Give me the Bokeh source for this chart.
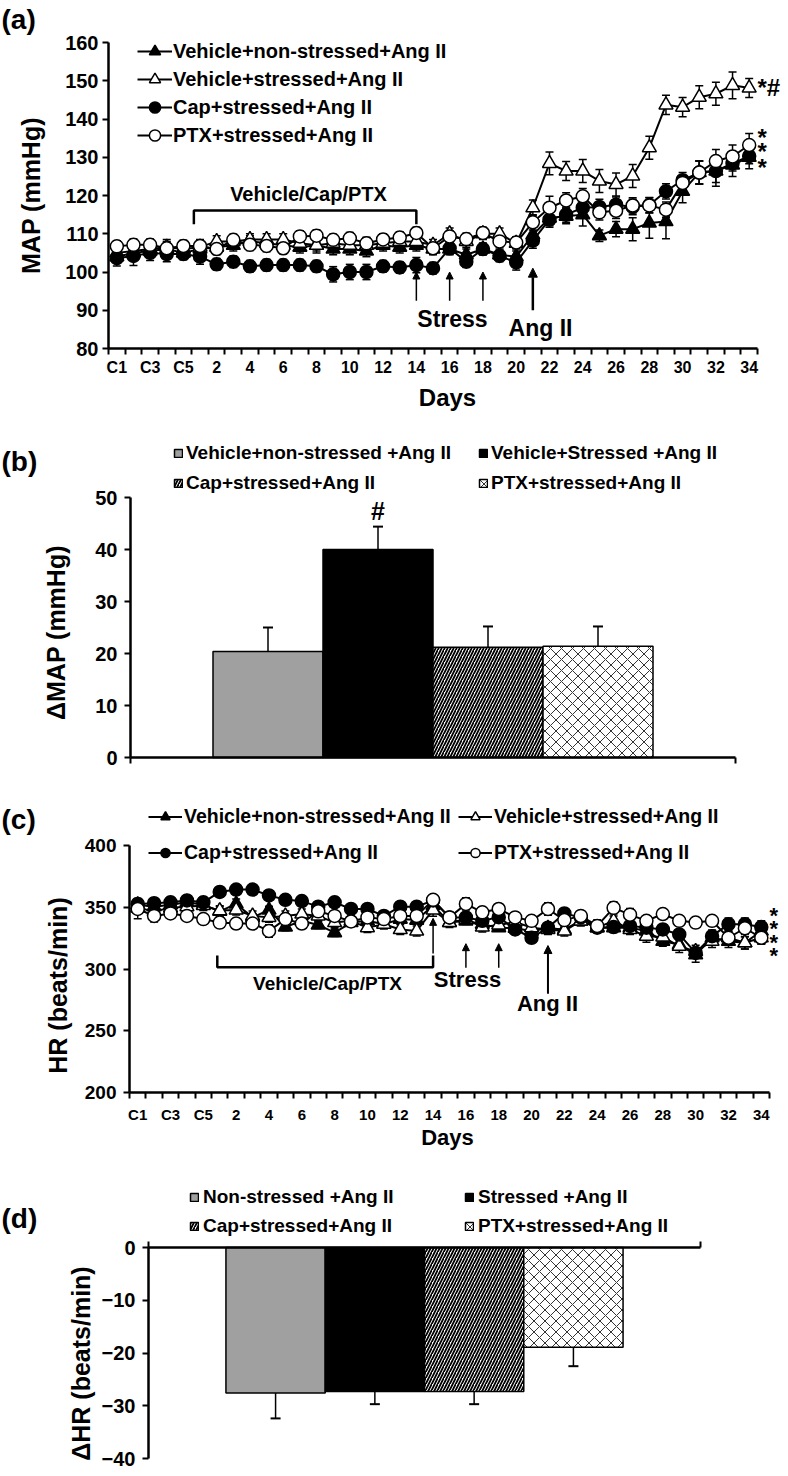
import math
from bokeh.plotting import figure
from bokeh.layouts import column
from bokeh.models import (Range1d, FixedTicker, Whisker, TeeHead, ColumnDataSource,
                          Legend, LegendItem, Label, Arrow, NormalHead)
from bokeh.embed import file_html
from bokeh.resources import INLINE

FONT = "Liberation Sans"

# ---------------- data ----------------
days = ["C1", "C2", "C3", "C4", "C5"] + [str(d) for d in range(1, 35)]
series_names = ["Vehicle+non-stressed+Ang II", "Vehicle+stressed+Ang II",
                "Cap+stressed+Ang II", "PTX+stressed+Ang II"]

# (a) MAP (mmHg)
map_veh_ns = [104.0, 105.0, 105.5, 106.0, 105.0,
              106.0, 106.5, 107.0, 108.0, 107.5, 107.0, 106.5, 107.0, 106.0, 106.0, 105.5, 107.0, 106.5, 107.0,
              106.0, 106.0, 104.5, 106.0, 104.5, 104.0,
              109.7, 114.1, 114.6, 115.0, 109.5, 111.2, 111.2, 112.8, 113.2, 121.1, 126.0, 126.4, 128.0, 130.0]
map_veh_s = [105.0, 105.5, 106.0, 106.5, 106.0,
             106.5, 108.0, 108.0, 108.5, 108.5, 108.5, 107.5, 107.0, 107.5, 107.0, 107.0, 107.5, 108.0, 108.0,
             107.0, 110.0, 108.0, 110.0, 110.0, 107.5,
             116.8, 128.4, 126.4, 126.4, 123.8, 122.9, 125.1, 132.5, 143.7, 143.1, 145.7, 146.6, 148.8, 148.1]
map_cap = [103.6, 104.2, 105.0, 104.7, 104.7,
           104.0, 102.0, 102.7, 101.5, 101.8, 101.8, 101.8, 101.5, 99.4, 100.0, 100.0, 101.5, 101.2, 101.8,
           101.0, 106.2, 102.7, 106.0, 104.2, 102.5,
           108.2, 113.7, 115.0, 116.8, 117.0, 117.6, 117.0, 117.5, 121.1, 124.0, 126.0, 126.4, 128.4, 130.3]
map_ptx = [106.7, 107.1, 107.1, 106.2, 106.8,
           106.8, 106.0, 108.4, 107.1, 106.8, 106.2, 109.3, 109.5, 108.4, 108.8, 107.5, 108.5, 109.0, 110.2,
           106.2, 109.3, 108.6, 110.2, 108.0, 107.7,
           113.0, 116.8, 118.7, 119.8, 115.6, 116.0, 117.4, 117.4, 116.3, 123.3, 126.0, 129.0, 130.2, 133.2]

map_veh_ns_err = [1.5, 2.0, 1.5, 2.5, 1.5,
                  1.5, 1.5, 1.5, 1.5, 1.5, 1.5, 1.5, 1.5, 1.5, 1.5, 1.5, 1.5, 1.5, 1.5,
                  1.5, 1.5, 1.5, 1.5, 1.5, 1.5,
                  2.0, 2.0, 2.0, 3.0, 1.5, 2.0, 3.0, 4.0, 4.5, 3.0, 3.0, 3.0, 3.0, 3.0]
map_veh_s_err = [1.5, 1.5, 1.5, 1.5, 1.5,
                 2.0, 1.5, 1.5, 1.5, 1.5, 1.5, 1.5, 2.0, 1.5, 1.5, 2.0, 1.5, 1.5, 1.5,
                 1.5, 1.5, 1.5, 1.5, 1.5, 1.5,
                 2.0, 3.0, 2.5, 3.0, 3.0, 3.0, 3.0, 3.0, 2.5, 2.5, 3.0, 3.0, 3.5, 2.5]
map_cap_err = [2.0, 2.5, 2.0, 2.0, 1.5,
               2.0, 1.5, 1.5, 1.5, 1.5, 1.5, 1.5, 1.5, 2.0, 2.0, 2.0, 1.5, 1.5, 2.0,
               1.5, 1.5, 1.5, 1.5, 1.5, 2.0,
               2.0, 2.0, 2.0, 2.0, 2.0, 2.0, 2.0, 2.0, 2.0, 2.0, 3.0, 4.0, 2.0, 2.0]
map_ptx_err = [1.5, 1.5, 1.5, 1.5, 1.5,
               1.5, 1.5, 1.5, 1.5, 1.5, 1.5, 1.5, 1.5, 1.5, 1.5, 1.5, 1.5, 1.5, 1.5,
               1.5, 1.5, 1.5, 1.5, 1.5, 1.5,
               2.0, 3.0, 2.0, 2.0, 2.0, 2.0, 2.0, 2.0, 2.0, 2.0, 3.0, 3.0, 3.0, 3.0]

# (c) HR (beats/min)
hr_veh_ns = [352.0, 350.5, 352.0, 354.0, 352.0,
             346.7, 352.7, 341.8, 347.8, 334.0, 339.0, 335.7, 329.4, 337.6, 339.0, 336.3, 340.4, 339.6, 351.4,
             337.6, 339.0, 336.3, 333.5, 333.0, 330.8,
             333.0, 332.0, 339.0, 333.5, 333.5, 333.5, 330.8, 322.5, 319.8, 311.5, 325.3, 322.5, 321.2, 330.8]
hr_veh_s = [349.5, 346.7, 349.5, 350.5, 351.4,
            347.3, 347.8, 343.0, 341.8, 343.0, 344.5, 343.0, 337.6, 339.0, 333.5, 336.3, 332.0, 330.8, 347.8,
            337.6, 340.4, 334.0, 335.7, 338.0, 333.5,
            332.0, 330.8, 339.0, 333.5, 339.0, 332.0, 326.6, 326.0, 318.4, 314.3, 322.5, 325.3, 321.2, 325.3]
hr_cap = [352.7, 353.3, 354.0, 355.5, 354.0,
          362.4, 364.3, 364.3, 359.6, 356.0, 355.0, 350.5, 354.0, 348.6, 348.6, 343.0, 350.5, 350.5, 355.5,
          341.8, 341.8, 339.0, 342.0, 332.0, 325.3,
          333.5, 345.0, 341.8, 333.5, 334.0, 334.9, 333.5, 332.0, 328.0, 313.0, 326.6, 336.3, 336.3, 334.0]
hr_ptx = [348.6, 343.0, 345.0, 343.0, 340.4,
          337.6, 336.8, 336.8, 330.8, 340.4, 336.8, 346.7, 343.0, 338.5, 341.8, 340.4, 343.0, 343.0, 356.0,
          341.8, 352.7, 345.9, 348.6, 341.8, 339.0,
          348.6, 339.6, 343.0, 334.9, 349.5, 344.0, 339.0, 344.5, 339.0, 337.6, 339.0, 325.3, 333.0, 325.3]

hr_veh_ns_err = [5, 4, 4, 5, 4,
                 4, 4, 3, 3, 3, 3, 3, 3, 3, 3, 3, 3, 3, 4,
                 3, 3, 3, 3, 3, 3,
                 3, 3, 4, 4, 4, 3, 4, 4, 4, 6, 5, 5, 5, 4]
hr_veh_s_err = [4, 4, 3, 4, 4,
                4, 4, 4, 4, 4, 4, 4, 4, 4, 4, 4, 4, 4, 5,
                4, 4, 4, 4, 4, 4,
                4, 4, 4, 4, 4, 4, 5, 5, 5, 5, 5, 5, 5, 5]
hr_cap_err = [4, 4, 4, 4, 4,
              4, 4, 4, 4, 4, 4, 4, 4, 4, 4, 4, 4, 4, 4,
              4, 4, 4, 4, 4, 4,
              4, 4, 4, 4, 4, 4, 4, 4, 4, 4, 5, 5, 5, 5]
hr_ptx_err = [8, 5, 4, 4, 4,
              4, 4, 4, 5, 4, 4, 4, 4, 4, 4, 4, 4, 4, 4,
              4, 5, 4, 4, 4, 4,
              5, 4, 4, 5, 5, 5, 4, 4, 4, 4, 4, 5, 5, 5]

# (b) delta MAP bars
groups_b = ["Vehicle+non-stressed +Ang II", "Vehicle+Stressed +Ang II",
            "Cap+stressed+Ang II", "PTX+stressed+Ang II"]
dmap = [20.4, 40.0, 21.2, 21.4]
dmap_err = [4.6, 4.4, 4.0, 3.8]

# (d) delta HR bars
groups_d = ["Non-stressed +Ang II", "Stressed +Ang II",
            "Cap+stressed+Ang II", "PTX+stressed+Ang II"]
dhr = [-27.6, -27.3, -27.3, -18.9]
dhr_err = [4.8, 2.4, 2.4, 3.6]

# annotation days
treat_start, treat_end = "C5", "14"
stress_days = ["14", "16", "18"]
angii_day = "21"

# ---------------- helpers ----------------
W = 788
idx = list(range(len(days)))
label_idx = idx[0::2]
boundaries = [i - 0.5 for i in range(len(days) + 1)]


class Panel:
    """Maps canvas pixels of one figure (frame = whole canvas) to data."""
    def __init__(self, top, h, xd, xp, yd, yp):
        self.top, self.h = top, h
        self.sx = (xd[1] - xd[0]) / (xp[1] - xp[0])
        self.x0 = xd[0] - xp[0] * self.sx
        self.sy = (yd[1] - yd[0]) / (yp[1] - yp[0])
        self.y0 = yd[0] - (yp[0] - top) * self.sy

    def X(self, px):
        return self.x0 + px * self.sx

    def Y(self, ref_py):
        return self.y0 + (ref_py - self.top) * self.sy

    def fig(self):
        p = figure(width=W, height=self.h, title=None,
                   x_range=Range1d(self.X(0), self.X(W)),
                   y_range=Range1d(self.Y(self.top + self.h), self.Y(self.top)),
                   output_backend="svg", toolbar_location=None,
                   min_border_left=0, min_border_right=0, min_border_top=0, min_border_bottom=0)
        p.xgrid.grid_line_color = None
        p.ygrid.grid_line_color = None
        p.outline_line_color = None
        return p


def style_axis(ax, size, loc, bounds):
    ax.fixed_location = loc
    ax.bounds = bounds
    ax.axis_line_width = 2.5
    ax.axis_line_color = "black"
    ax.major_tick_line_width = 2
    ax.major_tick_line_color = "black"
    ax.major_tick_in = 0
    ax.major_tick_out = 6
    ax.minor_tick_line_color = None
    ax.major_label_text_font = FONT
    ax.major_label_text_font_size = size
    ax.major_label_text_font_style = "bold"
    ax.major_label_text_color = "black"


def day_axis(ax, size, loc):
    style_axis(ax, size, loc, (-0.5, 38.5))
    ax.ticker = FixedTicker(ticks=label_idx, minor_ticks=boundaries)
    ax.major_label_overrides = {i: days[i] for i in label_idx}
    ax.major_tick_line_color = None
    ax.minor_tick_line_color = "black"
    ax.minor_tick_line_width = 2
    ax.minor_tick_in = 0
    ax.minor_tick_out = 6


def add_text(p, x, y, text, size, align="center", baseline="middle", angle=0):
    p.add_layout(Label(x=x, y=y, text=text, text_font=FONT, text_font_size=size,
                       text_font_style="bold", text_color="black", text_align=align,
                       text_baseline=baseline, angle=angle))


def add_arrow(p, x, y0, y1, w=1.5, size=7):
    p.add_layout(Arrow(end=NormalHead(size=size, fill_color="black", line_color="black", line_width=1),
                       x_start=x, y_start=y0, x_end=x, y_end=y1, line_width=w, line_color="black"))


def line_series(p, ys, errs, marker_styles, msize):
    rends = []
    for (marker, fill), y, e in zip(marker_styles, ys, errs):
        src = ColumnDataSource(dict(x=idx, y=y,
                                    lo=[a - b for a, b in zip(y, e)],
                                    hi=[a + b for a, b in zip(y, e)]))
        p.add_layout(Whisker(source=src, base="x", lower="lo", upper="hi", line_width=1.5,
                             line_color="black",
                             lower_head=TeeHead(size=8, line_width=1.5, line_color="black"),
                             upper_head=TeeHead(size=8, line_width=1.5, line_color="black")))
        ln = p.line("x", "y", source=src, line_color="black", line_width=2)
        sc = p.scatter("x", "y", source=src, marker=marker,
                       size=msize if marker == "circle" else msize + 1,
                       fill_color=fill, line_color="black", line_width=1.5)
        rends.append([ln, sc])
    return rends


def make_legend(items, loc, glyph_w, glyph_h, label_h, spacing, size, standoff):
    return Legend(items=items, location=loc, orientation="vertical",
                  glyph_width=glyph_w, glyph_height=glyph_h, label_height=label_h,
                  spacing=spacing, padding=0, margin=0, label_standoff=standoff,
                  border_line_color=None, background_fill_alpha=0,
                  label_text_font=FONT, label_text_font_size=size,
                  label_text_font_style="bold", label_text_color="black")


styles = [("triangle", "black"), ("triangle", "white"), ("circle", "black"), ("circle", "white")]
i_end = days.index(treat_end)
stress_idx = [days.index(d) for d in stress_days]
ang_idx = days.index(angii_day)

# ---------------- (a) ----------------
A = Panel(0, 428, (-0.5, 38.5), (108, 757), (160, 80), (42, 348))
pa = A.fig()
style_axis(pa.yaxis[0], "20px", -0.5, (80, 160))
pa.yaxis.ticker = FixedTicker(ticks=list(range(80, 161, 10)))
pa.yaxis.major_label_standoff = 4
day_axis(pa.xaxis[0], "16px", 80)
pa.xaxis.major_label_standoff = 4

ra = line_series(pa, [map_veh_ns, map_veh_s, map_cap, map_ptx],
                 [map_veh_ns_err, map_veh_s_err, map_cap_err, map_ptx_err], styles, 13)
pa.add_layout(make_legend([LegendItem(label=n, renderers=r) for n, r in zip(series_names, ra)],
                          (137, 428 - 149), 35, 28, 28, 0, "20px", 1))

ia_start = days.index(treat_start) + 0.63
pa.line([ia_start, ia_start, i_end, i_end], [112.5, 116.1, 116.1, 112.5], line_color="black", line_width=2.5)
add_text(pa, A.X(308), A.Y(193), "Vehicle/Cap/PTX", "20px")
for s in stress_idx:
    add_arrow(pa, s, 92.5, 100.0)
add_arrow(pa, ang_idx, 90.0, 101.0, w=2.5, size=9)
add_text(pa, A.X(452), A.Y(318), "Stress", "23px")
add_text(pa, A.X(540), A.Y(327), "Ang II", "23px")
add_text(pa, A.X(757), A.Y(87), "*#", "24px", align="left")
for yy in [137, 151, 167]:
    add_text(pa, A.X(757), A.Y(yy), "*", "24px", align="left")
add_text(pa, A.X(1), A.Y(19), "(a)", "28px", align="left")
add_text(pa, A.X(30), A.Y(195), "MAP (mmHg)", "25px", angle=math.pi / 2)
add_text(pa, A.X(447), A.Y(397), "Days", "24px")

# ---------------- (b) ----------------
B = Panel(428, 362, (0, 5.5), (130, 735), (50, 0), (497, 757))
pb = B.fig()
bar_x_b = [1.25, 2.25, 3.25, 4.25]
style_axis(pb.yaxis[0], "20px", 0, (0, 50))
pb.yaxis.ticker = FixedTicker(ticks=list(range(0, 51, 10)))
pb.yaxis.major_label_standoff = 7
style_axis(pb.xaxis[0], "1px", 0, (0, 5.5))
pb.xaxis.ticker = FixedTicker(ticks=[0, 5.5])
pb.xaxis.major_label_overrides = {0: "", 5.5: ""}

bar_styles = [dict(fill_color="#a0a0a0"), dict(fill_color="black"),
              dict(fill_color="white", hatch_pattern="/", hatch_scale=6, hatch_weight=1.8, hatch_color="black"),
              dict(fill_color="white", hatch_pattern="x", hatch_scale=11, hatch_weight=1.0, hatch_color="#333333")]
rb = []
for i in range(4):
    rb.append(pb.vbar(x=[bar_x_b[i]], top=[dmap[i]], bottom=0, width=1.0, line_color="black",
                      line_width=1.5, **bar_styles[i]))
srcb = ColumnDataSource(dict(x=bar_x_b, lo=dmap, hi=[a + b for a, b in zip(dmap, dmap_err)]))
pb.add_layout(Whisker(source=srcb, base="x", lower="lo", upper="hi", line_width=1.5, line_color="black",
                      lower_head=None, upper_head=TeeHead(size=10, line_width=2, line_color="black"),
                      level="overlay"))
pb.add_layout(make_legend([LegendItem(label=groups_b[0], renderers=[rb[0]]),
                           LegendItem(label=groups_b[2], renderers=[rb[2]])],
                          (173, 790 - 494), 10, 10, 22, 8, "19px", 3))
pb.add_layout(make_legend([LegendItem(label=groups_b[1], renderers=[rb[1]]),
                           LegendItem(label=groups_b[3], renderers=[rb[3]])],
                          (478, 790 - 494), 10, 10, 22, 8, "19px", 3))
add_text(pb, bar_x_b[1], B.Y(510), "#", "25px")
add_text(pb, B.X(1), B.Y(461), "(b)", "28px", align="left")
add_text(pb, B.X(55), B.Y(632), "\u0394MAP (mmHg)", "25px", angle=math.pi / 2)

# ---------------- (c) ----------------
C = Panel(790, 360, (-0.5, 38.5), (129, 769), (400, 200), (845, 1092))
pc = C.fig()
style_axis(pc.yaxis[0], "19px", -0.5, (200, 400))
pc.yaxis.ticker = FixedTicker(ticks=list(range(200, 401, 50)))
pc.yaxis.major_label_standoff = 7
day_axis(pc.xaxis[0], "15px", 200)
pc.xaxis.major_label_standoff = 7

rc = line_series(pc, [hr_veh_ns, hr_veh_s, hr_cap, hr_ptx],
                 [hr_veh_ns_err, hr_veh_s_err, hr_cap_err, hr_ptx_err], styles, 13)
pc.add_layout(make_legend([LegendItem(label=series_names[0], renderers=rc[0]),
                           LegendItem(label=series_names[2], renderers=rc[2])],
                          (148, 1150 - 864), 34, 23, 23, 13, "19.5px", 2))
pc.add_layout(make_legend([LegendItem(label=series_names[1], renderers=rc[1]),
                           LegendItem(label=series_names[3], renderers=rc[3])],
                          (458, 1150 - 864), 34, 23, 23, 13, "19.5px", 2))
ic_start = days.index(treat_start) + 0.85
pc.line([ic_start, ic_start, i_end, i_end], [311.0, 301.5, 301.5, 311.0], line_color="black", line_width=2.5)
add_text(pc, C.X(327), C.Y(983), "Vehicle/Cap/PTX", "19px")
add_arrow(pc, stress_idx[0], 312.5, 341.0)
for s in stress_idx[1:]:
    add_arrow(pc, s, 301.0, 320.5)
add_arrow(pc, ang_idx, 280.0, 319.0, w=2.0, size=8)
add_text(pc, C.X(467), C.Y(979), "Stress", "22px")
add_text(pc, C.X(547), C.Y(1003), "Ang II", "22px")
for yy in [915, 928, 942, 955]:
    add_text(pc, C.X(769), C.Y(yy), "*", "22px", align="left")
add_text(pc, C.X(1), C.Y(819), "(c)", "28px", align="left")
add_text(pc, C.X(57), C.Y(985), "HR (beats/min)", "25px", angle=math.pi / 2)
add_text(pc, C.X(447), C.Y(1137), "Days", "22px")

# ---------------- (d) ----------------
D = Panel(1150, 326, (0, 5.56), (148, 700), (0, -40), (1247, 1458))
pdd = D.fig()
bar_x_d = [1.28, 2.28, 3.28, 4.28]
style_axis(pdd.yaxis[0], "20px", 0, (-40, 0))
pdd.yaxis.ticker = FixedTicker(ticks=list(range(-40, 1, 10)))
pdd.yaxis.major_label_standoff = 7
style_axis(pdd.xaxis[0], "1px", 0, (0, 5.56))
pdd.xaxis.ticker = FixedTicker(ticks=[0, 5.56])
pdd.xaxis.major_label_overrides = {0: "", 5.56: ""}
pdd.xaxis.major_tick_out = 0
pdd.xaxis.major_tick_in = 6

rd = []
for i in range(4):
    rd.append(pdd.vbar(x=[bar_x_d[i]], top=0, bottom=[dhr[i]], width=1.0, line_color="black",
                       line_width=1.5, **bar_styles[i]))
srcd = ColumnDataSource(dict(x=bar_x_d, hi=dhr, lo=[a - b for a, b in zip(dhr, dhr_err)]))
pdd.add_layout(Whisker(source=srcd, base="x", lower="lo", upper="hi", line_width=1.5, line_color="black",
                       upper_head=None, lower_head=TeeHead(size=10, line_width=2, line_color="black"),
                       level="overlay"))
pdd.add_layout(make_legend([LegendItem(label=groups_d[0], renderers=[rd[0]]),
                            LegendItem(label=groups_d[2], renderers=[rd[2]])],
                           (189, 1476 - 1237), 10, 10, 22, 7, "19px", 4))
pdd.add_layout(make_legend([LegendItem(label=groups_d[1], renderers=[rd[1]]),
                            LegendItem(label=groups_d[3], renderers=[rd[3]])],
                           (464, 1476 - 1237), 10, 10, 22, 7, "19px", 4))
add_text(pdd, D.X(1), D.Y(1218), "(d)", "28px", align="left")
add_text(pdd, D.X(80), D.Y(1363), "\u0394HR (beats/min)", "25px", angle=math.pi / 2)

layout = column(pa, pb, pc, pdd, spacing=0)
open("out.html", "w").write(file_html(layout, INLINE, title="MAP and HR"))
